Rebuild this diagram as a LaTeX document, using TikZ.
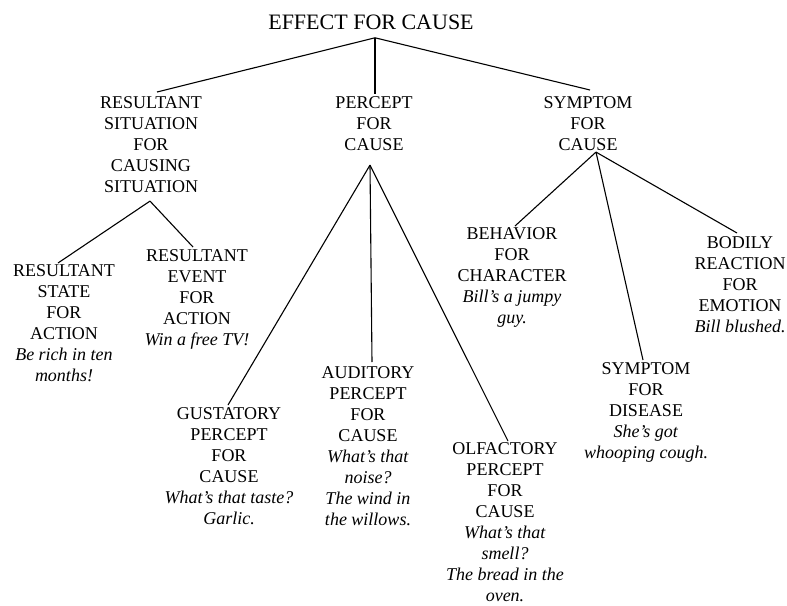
\documentclass[tikz,border=0pt]{standalone}
\usepackage{fontspec}
\setmainfont{Liberation Serif}
\begin{document}
\begin{tikzpicture}[x=1pt,y=-1pt,
  lbl/.style={anchor=north,inner sep=0pt,outer sep=0pt,align=center,font=\fontsize{18}{21}\selectfont},
  ttl/.style={anchor=north,inner sep=0pt,outer sep=0pt,font=\fontsize{22}{26}\selectfont},
  edge/.style={line width=1.1pt}]
\useasboundingbox (0,0) rectangle (787,605);
\node[ttl] (root) at (371,15) {EFFECT FOR CAUSE};
\node[lbl] (rscs) at (151,97) {RESULTANT\\SITUATION\\FOR\\CAUSING\\SITUATION};
\node[lbl] (pfc) at (374,97) {PERCEPT\\FOR\\CAUSE};
\node[lbl] (sfc) at (588,97) {SYMPTOM\\FOR\\CAUSE};
\node[lbl] (rsfa) at (64,265) {RESULTANT\\STATE\\FOR\\ACTION\\\textit{Be rich in ten}\\\textit{months!}};
\node[lbl] (refa) at (197,250) {RESULTANT\\EVENT\\FOR\\ACTION\\\textit{Win a free TV!}};
\node[lbl] (gus) at (229,408) {GUSTATORY\\PERCEPT\\FOR\\CAUSE\\\textit{What's that taste?}\\\textit{Garlic.}};
\node[lbl] (aud) at (368,367) {AUDITORY\\PERCEPT\\FOR\\CAUSE\\\textit{What's that}\\\textit{noise?}\\\textit{The wind in}\\\textit{the willows.}};
\node[lbl] (olf) at (505,443) {OLFACTORY\\PERCEPT\\FOR\\CAUSE\\\textit{What's that}\\\textit{smell?}\\\textit{The bread in the}\\\textit{oven.}};
\node[lbl] (bfc) at (512,228) {BEHAVIOR\\FOR\\CHARACTER\\\textit{Bill's a jumpy}\\\textit{guy.}};
\node[lbl] (sfd) at (646,363) {SYMPTOM\\FOR\\DISEASE\\\textit{She's got}\\\textit{whooping cough.}};
\node[lbl] (brfe) at (740,237) {BODILY\\REACTION\\FOR\\EMOTION\\\textit{Bill blushed.}};
% vertices
\coordinate (rootv) at ([shift={(4,8)}]root.south);
\coordinate (rscsv) at ([shift={(-1,8)}]rscs.south);
\coordinate (pfcv) at ([shift={(-4,14)}]pfc.south);
\coordinate (sfcv) at ([shift={(8,1)}]sfc.south);
% edges
\draw[edge] (rootv) -- ([shift={(6,-5)}]rscs.north);
\draw[edge] (rootv) -- ([shift={(1,-3)}]pfc.north);
\draw[edge] (rootv) -- ([shift={(2,-7)}]sfc.north);
\draw[edge] (rscsv) -- ([shift={(-6,-2)}]rsfa.north);
\draw[edge] (rscsv) -- ([shift={(-4,-3)}]refa.north);
\draw[edge] (pfcv) -- ([shift={(-1,-3)}]gus.north);
\draw[edge] (pfcv) -- ([shift={(4,-5)}]aud.north);
\draw[edge] (pfcv) -- ([shift={(3,-2)}]olf.north);
\draw[edge] (sfcv) -- ([shift={(3,-2)}]bfc.north);
\draw[edge] (sfcv) -- ([shift={(-3,-3)}]sfd.north);
\draw[edge] (sfcv) -- ([shift={(-3,-4)}]brfe.north);
\end{tikzpicture}
\end{document}
